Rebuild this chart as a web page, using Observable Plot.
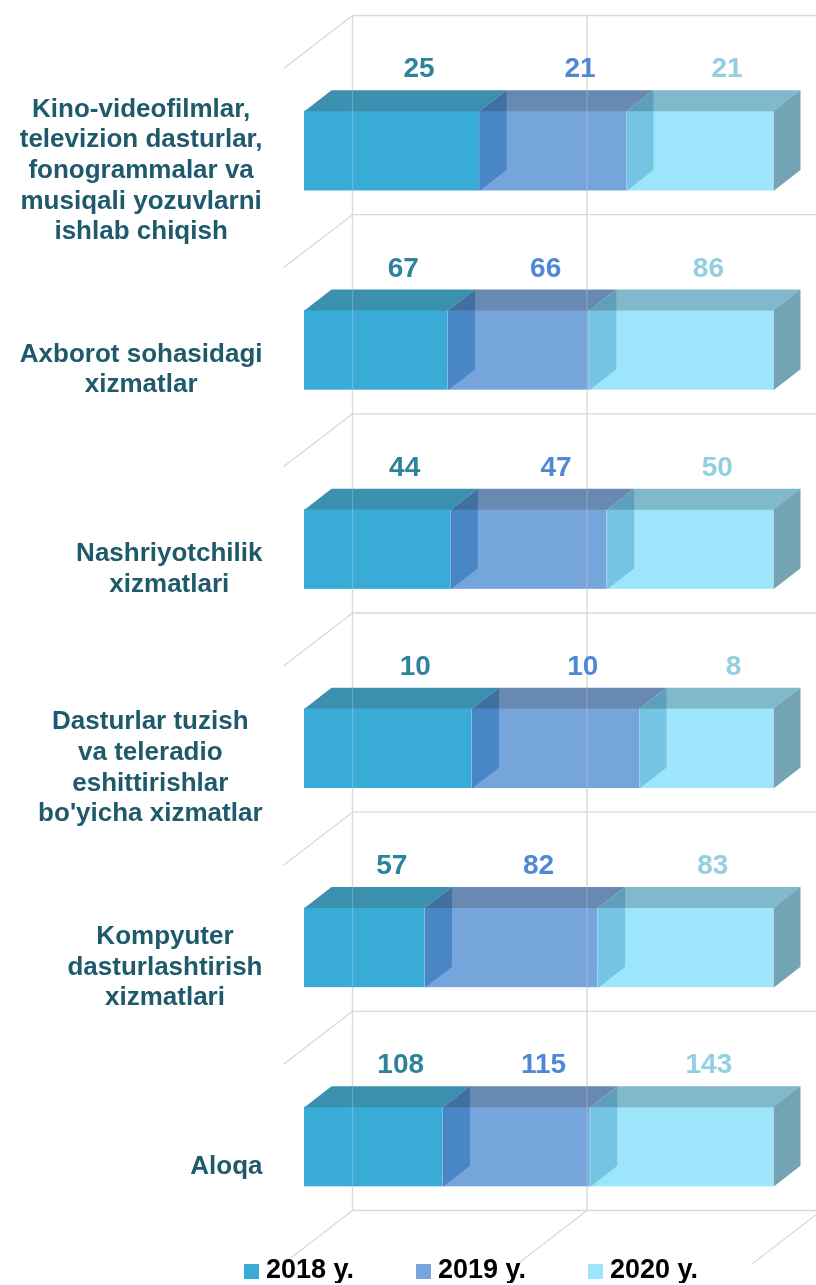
<!DOCTYPE html>
<html><head><meta charset="utf-8">
<script src="https://cdn.jsdelivr.net/npm/d3@7"></script>
<script src="https://cdn.jsdelivr.net/npm/@observablehq/plot@0.6"></script>
<style>
html,body{margin:0;padding:0;background:#fff;}
body{font-family:Liberation Sans,Arial,Helvetica,sans-serif;width:816px;overflow:hidden;}
#chart svg{display:block;overflow:visible;}
.legend{display:flex;align-items:center;padding-left:244px;height:28px;font-weight:bold;font-size:27px;color:#000;line-height:27px;}
.legend .item{display:flex;align-items:center;width:172px;flex:none;}
.legend .sw{width:15px;height:15px;margin-right:7px;flex:none;position:relative;top:2px;}
.legend .tx{white-space:nowrap;}
</style></head>
<body>
<div id="chart"></div>
<div class="legend" id="legend"></div>
<script>
// ---------- data ----------
const categories = [
  "Kino-videofilmlar,\ntelevizion dasturlar,\nfonogrammalar va\nmusiqali yozuvlarni\nishlab chiqish",
  "Axborot sohasidagi\nxizmatlar",
  "Nashriyotchilik\nxizmatlari",
  "Dasturlar tuzish\nva teleradio\neshittirishlar\nbo'yicha xizmatlar",
  "Kompyuter\ndasturlashtirish\nxizmatlari",
  "Aloqa"
];
const years = ["2018 y.", "2019 y.", "2020 y."];
const v2018 = [25, 67, 44, 10, 57, 108];
const v2019 = [21, 66, 47, 10, 82, 115];
const v2020 = [21, 86, 50, 8, 83, 143];
const series = [v2018, v2019, v2020];
const gridTicks = [0, 50, 100];

// ---------- style ----------
const frontColors = ["#38acd7", "#76a5dc", "#9de5fb"];
const topColors   = ["#3a90ae", "#6889b2", "#80b9cc"];
const sideColors  = ["#9ccfe6", "#bfdbe8", "#74a4b3"]; // multiplied over what lies behind
const labelColors = ["#2e8299", "#4f89d4", "#93cfe1"];
const catColor = "#1e5a6b";
const gridColor = "#d9d9d9";
const FONT = "Liberation Sans, Arial, Helvetica, sans-serif";

// ---------- geometry (pixels -> data units) ----------
const W = 816, H = 1255;
const xRange = [304, 773], yRange = [52, 1247];
const nRows = categories.length;
const pxX = (xRange[1] - xRange[0]) / 100;
const pxY = (yRange[1] - yRange[0]) / nRows;
const off = (px, py) => [px / pxX, py / pxY];
const BACK = off(27, -21);   // depth of a bar
const WALL = off(48, -37);   // back wall
const EDGE = off(-21, 16);   // front edge of the floor
const BAR_T = 58.8 / pxY, BAR_B = 138.5 / pxY;
const LABEL_Y = 16 / pxY;

// ---------- stacking (100%) ----------
const segs = [];
categories.forEach((c, i) => {
  const vals = series.map(s => s[i]);
  const total = d3.sum(vals);
  let cum = 0;
  vals.forEach((v, j) => {
    const x1 = cum / total * 100;
    cum += v;
    const x2 = cum / total * 100;
    segs.push({i, j, value: v, x1, x2});
  });
});

function topPoly(d) {
  const y = d.i + BAR_T;
  return [[d.x1, y], [d.x2, y], [d.x2 + BACK[0], y + BACK[1]], [d.x1 + BACK[0], y + BACK[1]]]
    .map(([x, yy]) => ({id: `${d.i}-${d.j}`, x, y: yy}));
}
function sidePoly(d) {
  const yt = d.i + BAR_T, yb = d.i + BAR_B;
  return [[d.x2, yt], [d.x2 + BACK[0], yt + BACK[1]], [d.x2 + BACK[0], yb + BACK[1]], [d.x2, yb]]
    .map(([x, yy]) => ({id: `${d.i}-${d.j}`, x, y: yy}));
}

// ---------- grid ----------
const gridLinks = [];
gridTicks.forEach(t => gridLinks.push({x1: t + WALL[0], y1: WALL[1], x2: t + WALL[0], y2: nRows + WALL[1]}));
d3.range(nRows + 1).forEach(k => {
  gridLinks.push({x1: WALL[0], y1: k + WALL[1], x2: 100 + WALL[0] + 5, y2: k + WALL[1]});
  gridLinks.push({x1: WALL[0], y1: k + WALL[1], x2: EDGE[0], y2: k + EDGE[1]});
});
gridTicks.slice(1).forEach(t => gridLinks.push({x1: t + WALL[0], y1: nRows + WALL[1], x2: t + EDGE[0], y2: nRows + EDGE[1]}));
const wallVerticals = gridLinks.slice(0, gridTicks.length);

// ---------- category label offsets ----------
const ctx = document.createElement("canvas").getContext("2d");
ctx.font = `bold 26px ${FONT}`;
const catMarks = categories.map((c, i) => {
  const w = d3.max(c.split("\n"), s => ctx.measureText(s).width);
  return Plot.text([c], {
    x: () => 0, y: () => i + 0.5 + EDGE[1], text: d => d,
    textAnchor: "middle", lineAnchor: "middle", lineHeight: 1.18,
    fontSize: 26, fontWeight: "bold", fill: catColor,
    dx: (262 - xRange[0]) - w / 2
  });
});

const marks = [
  Plot.link(gridLinks, {x1: "x1", y1: "y1", x2: "x2", y2: "y2", stroke: gridColor, strokeWidth: 1.3})
];
// front faces
years.forEach((y, j) => {
  marks.push(Plot.rect(segs.filter(d => d.j === j), {
    x1: "x1", x2: "x2", y1: d => d.i + BAR_T, y2: d => d.i + BAR_B,
    fill: frontColors[j], inset: 0
  }));
});
// top faces
years.forEach((y, j) => {
  marks.push(Plot.line(segs.filter(d => d.j === j).flatMap(topPoly), {
    x: "x", y: "y", z: "id", fill: topColors[j], stroke: "none", curve: "linear-closed"
  }));
});
// side faces
years.forEach((y, j) => {
  marks.push(Plot.line(segs.filter(d => d.j === j).flatMap(sidePoly), {
    x: "x", y: "y", z: "id", fill: sideColors[j], stroke: "none", curve: "linear-closed",
    mixBlendMode: "multiply"
  }));
});
// wall lines seen through the bars
marks.push(Plot.link(wallVerticals, {x1: "x1", y1: "y1", x2: "x2", y2: "y2", stroke: gridColor, strokeWidth: 1.3, strokeOpacity: 0.3}));
// value labels
years.forEach((y, j) => {
  marks.push(Plot.text(segs.filter(d => d.j === j), {
    x: d => (d.x1 + d.x2) / 2, y: d => d.i + LABEL_Y, text: d => String(d.value),
    fill: labelColors[j], fontSize: 28, fontWeight: "bold", dx: 27
  }));
});
marks.push(...catMarks);

const chart = Plot.plot({
  width: W, height: H,
  marginTop: 0, marginBottom: 0, marginLeft: 0, marginRight: 0,
  x: {domain: [0, 100], range: xRange, axis: null},
  y: {domain: [0, nRows], range: yRange, axis: null},
  style: {fontFamily: FONT, background: "#fff", overflow: "visible"},
  marks
});
document.getElementById("chart").appendChild(chart);

// ---------- legend ----------
const leg = document.getElementById("legend");
years.forEach((y, j) => {
  const it = document.createElement("div");
  it.className = "item";
  const sw = document.createElement("span");
  sw.className = "sw"; sw.style.background = frontColors[j];
  const tx = document.createElement("span");
  tx.className = "tx"; tx.textContent = y;
  it.appendChild(sw); it.appendChild(tx);
  leg.appendChild(it);
});
</script>
</body></html>
